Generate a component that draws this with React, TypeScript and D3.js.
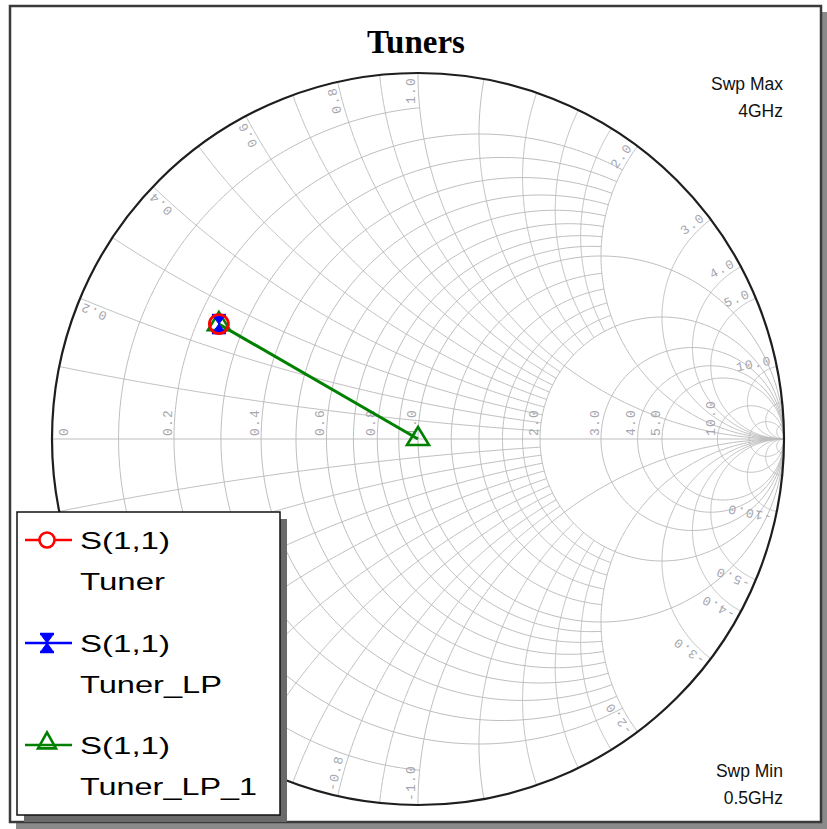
import React from 'react';
import * as d3 from 'd3';

const W = 827;
const H = 829;
const CX = 418;
const CY = 439;
const RAD = 366;

// Smith chart grid: constant-resistance circles and how far (|x|) each runs
const resistanceValues = [0.1, 0.2, 0.3, 0.4, 0.5, 0.6, 0.7, 0.8, 0.9, 1.0, 1.2, 1.4, 1.6, 1.8, 2.0, 3.0, 4.0, 5.0, 10.0, 20.0];
const resistanceReach = [1, 2, 2, 2, 2, 2, 2, 2, 2, Infinity, 2, 2, 2, 2, Infinity, Infinity, Infinity, Infinity, Infinity, Infinity];
// constant-reactance arcs and how far (r) each runs
const reactanceValues = [0.1, 0.2, 0.3, 0.4, 0.5, 0.6, 0.7, 0.8, 0.9, 1.0, 1.2, 1.4, 1.6, 1.8, 2.0, 3.0, 4.0, 5.0, 10.0, 20.0, 50.0];
const reactanceReach = [2, 2, 2, 2, 2, 2, 2, 2, 2, Infinity, 2, 2, 2, 2, Infinity, Infinity, Infinity, Infinity, Infinity, Infinity, Infinity];

const axisLabelValues = [0, 0.2, 0.4, 0.6, 0.8, 1.0, 2.0, 3.0, 4.0, 5.0, 10.0];
const axisLabelTexts = ['0', '0.2', '0.4', '0.6', '0.8', '1.0', '2.0', '3.0', '4.0', '5.0', '10.0'];
const rimLabelValues = [0.2, 0.4, 0.6, 0.8, 1.0, 2.0, 3.0, 4.0, 5.0, 10.0];
const rimLabelTexts = ['0.2', '0.4', '0.6', '0.8', '1.0', '2.0', '3.0', '4.0', '5.0', '10.0'];

// S(1,1) reflection coefficients (real, imaginary)
const tunerRe = [-0.544];
const tunerIm = [0.314];
const tunerLpRe = [-0.544];
const tunerLpIm = [0.314];
const tunerLp1Re = [-0.544, 0.0];
const tunerLp1Im = [0.314, 0.0];

const legendTitles = ['S(1,1)', 'S(1,1)', 'S(1,1)'];
const legendNames = ['Tuner', 'Tuner_LP', 'Tuner_LP_1'];
const seriesColors = ['#ff0000', '#0000ff', '#008000'];

const sweepMax = ['Swp Max', '4GHz'];
const sweepMin = ['Swp Min', '0.5GHz'];

const sx = d3.scaleLinear().domain([-1, 1]).range([CX - RAD, CX + RAD]);
const sy = d3.scaleLinear().domain([-1, 1]).range([CY + RAD, CY - RAD]);

function gamma(r: number, x: number): [number, number] {
  const a = r - 1, b = x, c = r + 1, d = x;
  const den = c * c + d * d;
  return [(a * c + b * d) / den, (b * c - a * d) / den];
}

const lineGen = d3.line<[number, number]>().x(p => sx(p[0])).y(p => sy(p[1]));

function resistancePath(r: number, xm: number): string {
  const c = r / (1 + r);
  const rho = 1 / (1 + r);
  let aStart = 0;
  if (isFinite(xm)) {
    const g = gamma(r, xm);
    aStart = Math.atan2(g[1], g[0] - c);
  } else {
    aStart = 0.0005;
  }
  const aEnd = 2 * Math.PI - aStart;
  const n = 300;
  const pts: [number, number][] = d3.range(n + 1).map(i => {
    const a = aStart + (aEnd - aStart) * i / n;
    return [c + rho * Math.cos(a), rho * Math.sin(a)];
  });
  return lineGen(pts) || '';
}

function reactancePath(x: number, rm: number): string {
  const cxg = 1, cyg = 1 / x, rho = Math.abs(1 / x);
  const g0 = gamma(0, x);
  const g1 = isFinite(rm) ? gamma(rm, x) : [1, 0];
  let a0 = Math.atan2(g0[1] - cyg, g0[0] - cxg);
  let a1 = Math.atan2(g1[1] - cyg, g1[0] - cxg);
  while (a1 - a0 > Math.PI) a1 -= 2 * Math.PI;
  while (a0 - a1 > Math.PI) a1 += 2 * Math.PI;
  const n = 300;
  const pts: [number, number][] = d3.range(n + 1).map(i => {
    const a = a0 + (a1 - a0) * i / n;
    return [cxg + rho * Math.cos(a), cyg + rho * Math.sin(a)];
  });
  return lineGen(pts) || '';
}

const GRID = '#bdbdbd';
const LABEL = '#a6a6ae';

function Hourglass({ x, y, color }: { x: number; y: number; color: string }) {
  const bw = 7, tw = 5.5, h = 9;
  return (
    <g transform={`translate(${x},${y})`}>
      <path d={`M${-tw},${-h + 1.5} L${tw},${-h + 1.5} L0,0 Z M${-tw},${h - 1.5} L${tw},${h - 1.5} L0,0 Z`} fill={color} stroke={color} strokeWidth={1} />
      <line x1={-bw} x2={bw} y1={-h} y2={-h} stroke={color} strokeWidth={2.5} />
      <line x1={-bw} x2={bw} y1={h} y2={h} stroke={color} strokeWidth={2.5} />
      <line x1={0} x2={0} y1={-h} y2={h} stroke={color} strokeWidth={1.5} />
    </g>
  );
}

function Triangle({ x, y, color, w, h }: { x: number; y: number; color: string; w: number; h: number }) {
  return (
    <path
      d={`M${x},${y - (2 * h) / 3} L${x + w / 2},${y + h / 3} L${x - w / 2},${y + h / 3} Z`}
      fill="none"
      stroke={color}
      strokeWidth={2.6}
      strokeLinejoin="miter"
    />
  );
}

export default function App() {
  const rPaths = resistanceValues.map((r, i) => resistancePath(r, resistanceReach[i]));
  const xPaths: string[] = [];
  reactanceValues.forEach((x, i) => {
    xPaths.push(reactancePath(x, reactanceReach[i]));
    xPaths.push(reactancePath(-x, reactanceReach[i]));
  });

  const axisLabels = axisLabelValues.map((v, i) => {
    const g = (v - 1) / (v + 1);
    const X = v === 0 ? CX - RAD + 18 : sx(g);
    return { x: X - 2.5, y: CY - 3, text: axisLabelTexts[i] };
  });

  const rimLabels: { x: number; y: number; rot: number; anchor: string; text: string }[] = [];
  const gap = 4, off = 3;
  rimLabelValues.forEach((v, i) => {
    [1, -1].forEach(sgn => {
      const g = gamma(0, sgn * v);
      const th = Math.atan2(g[1], g[0]);
      const px = sx(g[0]), py = sy(g[1]);
      const o = [Math.cos(th), -Math.sin(th)];
      const thDeg = (th * 180) / Math.PI;
      if (sgn > 0) {
        const u = [-Math.sin(th), -Math.cos(th)];
        rimLabels.push({
          x: px - gap * o[0] + off * u[0],
          y: py - gap * o[1] + off * u[1],
          rot: -thDeg,
          anchor: 'end',
          text: rimLabelTexts[i],
        });
      } else {
        const u = [Math.sin(th), Math.cos(th)];
        rimLabels.push({
          x: px - gap * o[0] + off * u[0],
          y: py - gap * o[1] + off * u[1],
          rot: 180 - thDeg,
          anchor: 'start',
          text: '-' + rimLabelTexts[i],
        });
      }
    });
  });

  const greenPts: [number, number][] = tunerLp1Re.map((re, i) => [re, tunerLp1Im[i]]);
  const greenPath = lineGen(greenPts) || '';

  const legendRowY = [540, 643, 745];

  return (
    <svg width={W} height={H} style={{ position: 'absolute', left: 0, top: 0 }} xmlns="http://www.w3.org/2000/svg">
      <defs>
        <clipPath id="unit">
          <circle cx={CX} cy={CY} r={RAD} />
        </clipPath>
      </defs>
      <rect x={0} y={0} width={W} height={H} fill="#ffffff" />
      <rect x={16} y={12} width={811} height={817} fill="#8a8a8a" />
      <rect x={10} y={6} width={811} height={816} fill="#ffffff" stroke="#3a3a3a" strokeWidth={2.5} />

      <text x={416} y={53} textAnchor="middle" fontFamily="'Liberation Serif', 'Times New Roman', serif" fontWeight="bold" fontSize={33}>
        Tuners
      </text>

      <g clipPath="url(#unit)" fill="none" stroke={GRID} strokeWidth={1}>
        {rPaths.map((d, i) => (
          <path key={'r' + i} d={d} />
        ))}
        {xPaths.map((d, i) => (
          <path key={'x' + i} d={d} />
        ))}
        <line x1={sx(-1)} x2={sx(1)} y1={sy(0)} y2={sy(0)} />
      </g>
      <circle cx={CX} cy={CY} r={RAD} fill="none" stroke="#1e1e1e" strokeWidth={2.2} />

      <g fontFamily="'Liberation Mono', 'Courier New', monospace" fontSize={13} fill={LABEL} letterSpacing={1.2}>
        {axisLabels.map((l, i) => (
          <text key={'al' + i} transform={`translate(${l.x},${l.y}) rotate(-90)`} textAnchor="start">
            {l.text}
          </text>
        ))}
        {rimLabels.map((l, i) => (
          <text key={'rl' + i} transform={`translate(${l.x},${l.y}) rotate(${l.rot})`} textAnchor={l.anchor}>
            {l.text}
          </text>
        ))}
      </g>

      <path d={greenPath} fill="none" stroke={seriesColors[2]} strokeWidth={3} />
      {tunerLp1Re.map((re, i) => (
        <Triangle key={'gt' + i} x={sx(re)} y={sy(tunerLp1Im[i])} color={seriesColors[2]} w={22} h={18} />
      ))}
      {tunerLpRe.map((re, i) => (
        <Hourglass key={'bh' + i} x={sx(re)} y={sy(tunerLpIm[i])} color={seriesColors[1]} />
      ))}
      {tunerRe.map((re, i) => (
        <circle key={'rc' + i} cx={sx(re)} cy={sy(tunerIm[i])} r={9.5} fill="none" stroke={seriesColors[0]} strokeWidth={2.8} />
      ))}

      <g fontFamily="'Liberation Sans', Arial, sans-serif" fontSize={17.5} fill="#111" textAnchor="end">
        <text x={783} y={90}>{sweepMax[0]}</text>
        <text x={783} y={117}>{sweepMax[1]}</text>
        <text x={783} y={777}>{sweepMin[0]}</text>
        <text x={783} y={804}>{sweepMin[1]}</text>
      </g>

      <rect x={24} y={519} width={263} height={303} fill="#6a6a6a" />
      <rect x={17} y={512} width={263} height={303} fill="#ffffff" stroke="#111" strokeWidth={1.5} />
      {legendRowY.map((y, i) => (
        <g key={'lg' + i}>
          <line x1={25} x2={72} y1={y} y2={y} stroke={seriesColors[i]} strokeWidth={2.5} />
          {i === 0 && <circle cx={47} cy={y} r={7.5} fill="#fff" stroke={seriesColors[0]} strokeWidth={2.6} />}
          {i === 1 && <Hourglass x={47} y={y} color={seriesColors[1]} />}
          {i === 2 && <Triangle x={47} y={y - 2} color={seriesColors[2]} w={18} h={16} />}
          <text x={80} y={y + 9} fontFamily="'Liberation Sans', Arial, sans-serif" fontSize={24} textLength={90} lengthAdjust="spacingAndGlyphs">
            {legendTitles[i]}
          </text>
          <text
            x={80}
            y={y + 50}
            fontFamily="'Liberation Sans', Arial, sans-serif"
            fontSize={24}
            textLength={[85, 142, 177][i]}
            lengthAdjust="spacingAndGlyphs"
          >
            {legendNames[i]}
          </text>
        </g>
      ))}
    </svg>
  );
}
